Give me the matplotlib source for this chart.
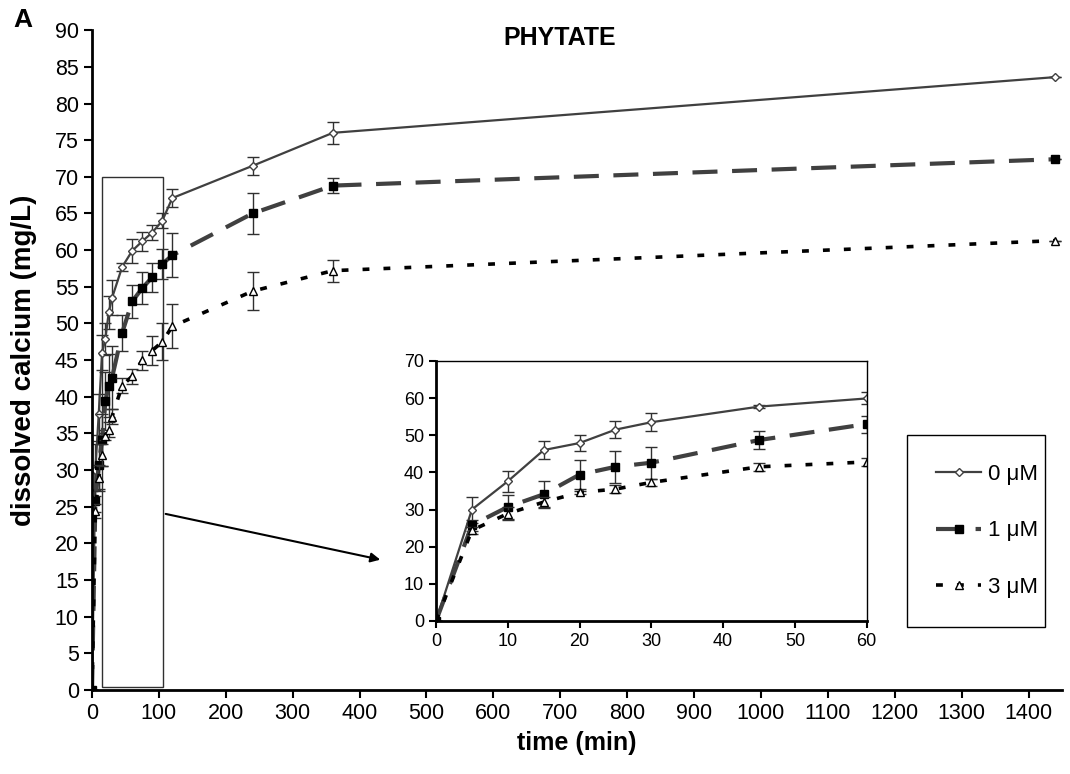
import matplotlib
matplotlib.use('Agg')
import matplotlib.pyplot as plt
import numpy as np

plt.rcParams['font.family'] = ['Liberation Sans', 'DejaVu Sans']

# time points (min)
time = [0, 5, 10, 15, 20, 25, 30, 45, 60, 75, 90, 105, 120, 240, 360, 1440]

# dissolved calcium (mg/L) and error bars
ca_0 = [0, 30.0, 37.6, 46.0, 47.9, 51.5, 53.5, 57.7, 59.9, 61.2, 62.4, 64.0, 67.1, 71.5, 76.0, 83.6]
err_0 = [0, 3.5, 2.8, 2.4, 2.2, 2.2, 2.4, 0.5, 1.6, 1.3, 1.0, 1.0, 1.2, 1.2, 1.5, 0]
ca_1 = [0, 25.8, 30.7, 34.1, 39.4, 41.5, 42.6, 48.7, 53.0, 54.8, 56.3, 58.1, 59.3, 65.0, 68.8, 72.4]
err_1 = [0, 1.5, 3.3, 3.5, 4.0, 4.3, 4.3, 2.4, 2.3, 2.2, 2.0, 2.0, 3.0, 2.8, 1.0, 0]
ca_3 = [0, 24.4, 28.9, 32.0, 34.6, 35.5, 37.3, 41.5, 42.8, 45.0, 46.3, 47.5, 49.6, 54.4, 57.2, 61.3]
err_3 = [0, 1.0, 1.8, 1.5, 0.5, 1.0, 1.0, 1.0, 1.0, 1.3, 2.0, 2.5, 3.0, 2.6, 1.5, 0]

labels = ['0 \u03bcM', '1 \u03bcM', '3 \u03bcM']

styles = [
    dict(color='#404040', lw=1.6, ls='-', marker='D', ms=4.5, mfc='white', mec='#404040'),
    dict(color='#404040', lw=3.0, ls=(0, (6, 3.5)), marker='s', ms=6, mfc='black', mec='black'),
    dict(color='black', lw=2.6, ls=(0, (1.9, 3.9)), marker='^', ms=6, mfc='white', mec='black'),
]
series = [(ca_0, err_0), (ca_1, err_1), (ca_3, err_3)]

fig = plt.figure(figsize=(10.7, 7.74), dpi=100)
ax = fig.add_axes([0.086, 0.1085, 0.9065, 0.8525])

handles = []
for (y, e), st, lab in zip(series, styles, labels):
    ax.errorbar(time, y, yerr=e, fmt='none', ecolor='#303030', elinewidth=1, capsize=4, capthick=1)
    h, = ax.plot(time, y, label=lab, **st)
    handles.append(h)

ax.set_xlim(0, 1450)
ax.set_ylim(0, 90)
ax.set_xticks(np.arange(0, 1401, 100))
ax.set_yticks(np.arange(0, 91, 5))
ax.spines['top'].set_visible(False)
ax.spines['right'].set_visible(False)
ax.spines['left'].set_linewidth(2)
ax.spines['bottom'].set_linewidth(2)
ax.tick_params(direction='out', length=6, width=1.5, labelsize=15.5)
ax.set_xlabel('time (min)', fontsize=18, fontweight='bold', labelpad=5)
ax.set_ylabel('dissolved calcium (mg/L)', fontsize=20, fontweight='bold', labelpad=13)
ax.text(0.482, 0.988, 'PHYTATE', transform=ax.transAxes, ha='center', va='center',
        fontsize=18, fontweight='bold')
fig.text(0.021, 0.974, 'A', fontsize=19, fontweight='bold', ha='center', va='center')

# highlight box and arrow to inset
ax.add_patch(plt.Rectangle((15, 0.4), 91, 69.6, fill=False, ec='#303030', lw=1))
ax.annotate('', xy=(435, 17.7), xytext=(106, 24.1),
            arrowprops=dict(arrowstyle='-|>', color='black', lw=1.5, mutation_scale=14))

# inset
ins = fig.add_axes([0.4075, 0.1977, 0.4025, 0.336])
n = time.index(60) + 1
for (y, e), st in zip(series, styles):
    ins.errorbar(time[:n], y[:n], yerr=e[:n], fmt='none', ecolor='#303030',
                 elinewidth=1, capsize=4, capthick=1)
    ins.plot(time[:n], y[:n], **st)
ins.set_xlim(0, 60)
ins.set_ylim(0, 70)
ins.set_xticks(np.arange(0, 61, 10))
ins.set_yticks(np.arange(0, 71, 10))
ins.tick_params(direction='out', length=5, width=1.5, labelsize=13)
ins.spines['left'].set_linewidth(2)
ins.spines['bottom'].set_linewidth(2)
ins.spines['top'].set_linewidth(1)
ins.spines['right'].set_linewidth(1)

fig.legend(handles=handles, loc='lower left', bbox_to_anchor=(0.8477, 0.19, 0.129, 0.257),
           mode='expand', fontsize=16, frameon=True, fancybox=False, edgecolor='black',
           labelspacing=1.6, borderpad=1.3, handlelength=2.05, handletextpad=0.3,
           borderaxespad=0, framealpha=1)

fig.savefig('out.png', dpi=100)
